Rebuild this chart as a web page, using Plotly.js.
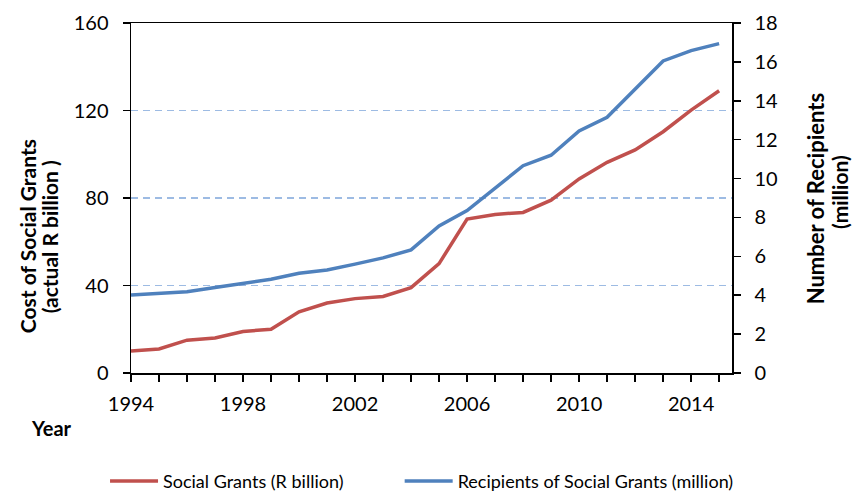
<!DOCTYPE html>
<html>
<head>
<meta charset="utf-8">
<script src="https://cdn.plot.ly/plotly-3.0.1.min.js"></script>
<style>html,body{margin:0;padding:0;background:#fff;}#chart{width:854px;height:492px;}</style>
</head>
<body>
<div id="chart"></div>
<script>
const years = [1994,1995,1996,1997,1998,1999,2000,2001,2002,2003,2004,2005,2006,2007,2008,2009,2010,2011,2012,2013,2014,2015];
const grantsCost = [10,11,15,16,19,20,28,32,34,35,39,50,70.4,72.5,73.4,79,88.7,96.3,102,110.3,120.2,129];
const recipients = [4.01,4.1,4.18,4.4,4.61,4.82,5.13,5.3,5.6,5.92,6.33,7.56,8.35,9.5,10.66,11.2,12.45,13.15,14.59,16.05,16.58,16.94];
const xLabelYears = [1994,1998,2002,2006,2010,2014];
const leftTicks = [0,40,80,120,160];
const rightTicks = [0,2,4,6,8,10,12,14,16,18];
const seriesNames = ['Social Grants (R billion)', 'Recipients of Social Grants (million)'];

const FONT = 'Lato, "Open Sans", sans-serif';
const tickText = years.map(y => xLabelYears.includes(y) ? String(y) : '');

const traces = [
  {x: years, y: grantsCost, name: seriesNames[0], type: 'scatter', mode: 'lines',
   line: {color: '#C0504D', width: 3.5}, yaxis: 'y', legend: 'legend'},
  {x: years, y: recipients, name: seriesNames[1], type: 'scatter', mode: 'lines',
   line: {color: '#4F81BD', width: 3.5}, yaxis: 'y2', legend: 'legend2'}
];

const legendCommon = {orientation: 'h', xref: 'container', yref: 'container', xanchor: 'left',
  y: 0.022, yanchor: 'middle', font: {size: 18, family: FONT}, itemwidth: 48,
  bgcolor: 'rgba(0,0,0,0)'};

const layout = {
  width: 854, height: 492,
  margin: {l: 131, r: 122, t: 23, b: 119, autoexpand: false},
  paper_bgcolor: '#fff', plot_bgcolor: '#fff',
  font: {family: FONT, color: '#000', size: 20},
  showlegend: true,
  legend: Object.assign({}, legendCommon, {x: 0.123}),
  legend2: Object.assign({}, legendCommon, {x: 0.468}),
  xaxis: {range: [1994, 2015.46], tickmode: 'array', tickvals: years, ticktext: tickText,
          ticks: 'outside', ticklen: 7, tickwidth: 1.5, tickcolor: '#000',
          showline: true, linecolor: '#000', linewidth: 1.5, mirror: true,
          showgrid: false, zeroline: false, ticklabelstandoff: 5,
          tickfont: {size: 20, family: FONT}},
  yaxis: {range: [0, 160], tickmode: 'array', tickvals: leftTicks,
          ticks: 'outside', ticklen: 7, tickwidth: 1.5, tickcolor: '#000',
          showline: true, linecolor: '#000', linewidth: 1.5,
          showgrid: true, gridcolor: '#9DBBE3', gridwidth: 1.3, griddash: '7px,5px',
          zeroline: false, ticklabelstandoff: 10, tickfont: {size: 20, family: FONT}},
  yaxis2: {range: [0, 18], tickmode: 'array', tickvals: rightTicks, overlaying: 'y', side: 'right',
           ticks: 'outside', ticklen: 7, tickwidth: 1.5, tickcolor: '#000',
           showline: true, linecolor: '#000', linewidth: 1.5,
           showgrid: false, zeroline: false, ticklabelstandoff: 10, tickfont: {size: 20, family: FONT}},
  annotations: [
    {text: '<b>Cost of Social Grants</b>', xref: 'paper', yref: 'paper', x: -0.172, y: 0.39,
     textangle: -90, showarrow: false, font: {size: 21, family: FONT}, xanchor: 'center', yanchor: 'middle'},
    {text: '<b>(actual R billion )</b>', xref: 'paper', yref: 'paper', x: -0.135, y: 0.39,
     textangle: -90, showarrow: false, font: {size: 21, family: FONT}, xanchor: 'center', yanchor: 'middle'},
    {text: '<b>Number of Recipients</b>', xref: 'paper', yref: 'paper', x: 1.138, y: 0.499,
     textangle: -90, showarrow: false, font: {size: 22, family: FONT}, xanchor: 'center', yanchor: 'middle'},
    {text: '<b>(million)</b>', xref: 'paper', yref: 'paper', x: 1.179, y: 0.516,
     textangle: -90, showarrow: false, font: {size: 21, family: FONT}, xanchor: 'center', yanchor: 'middle'},
    {text: '<b>Year</b>', xref: 'paper', yref: 'paper', x: -0.132, y: -0.157,
     showarrow: false, font: {size: 20, family: FONT}, xanchor: 'center', yanchor: 'middle'}
  ]
};

Plotly.newPlot('chart', traces, layout, {displayModeBar: false, staticPlot: true});
</script>
</body>
</html>
